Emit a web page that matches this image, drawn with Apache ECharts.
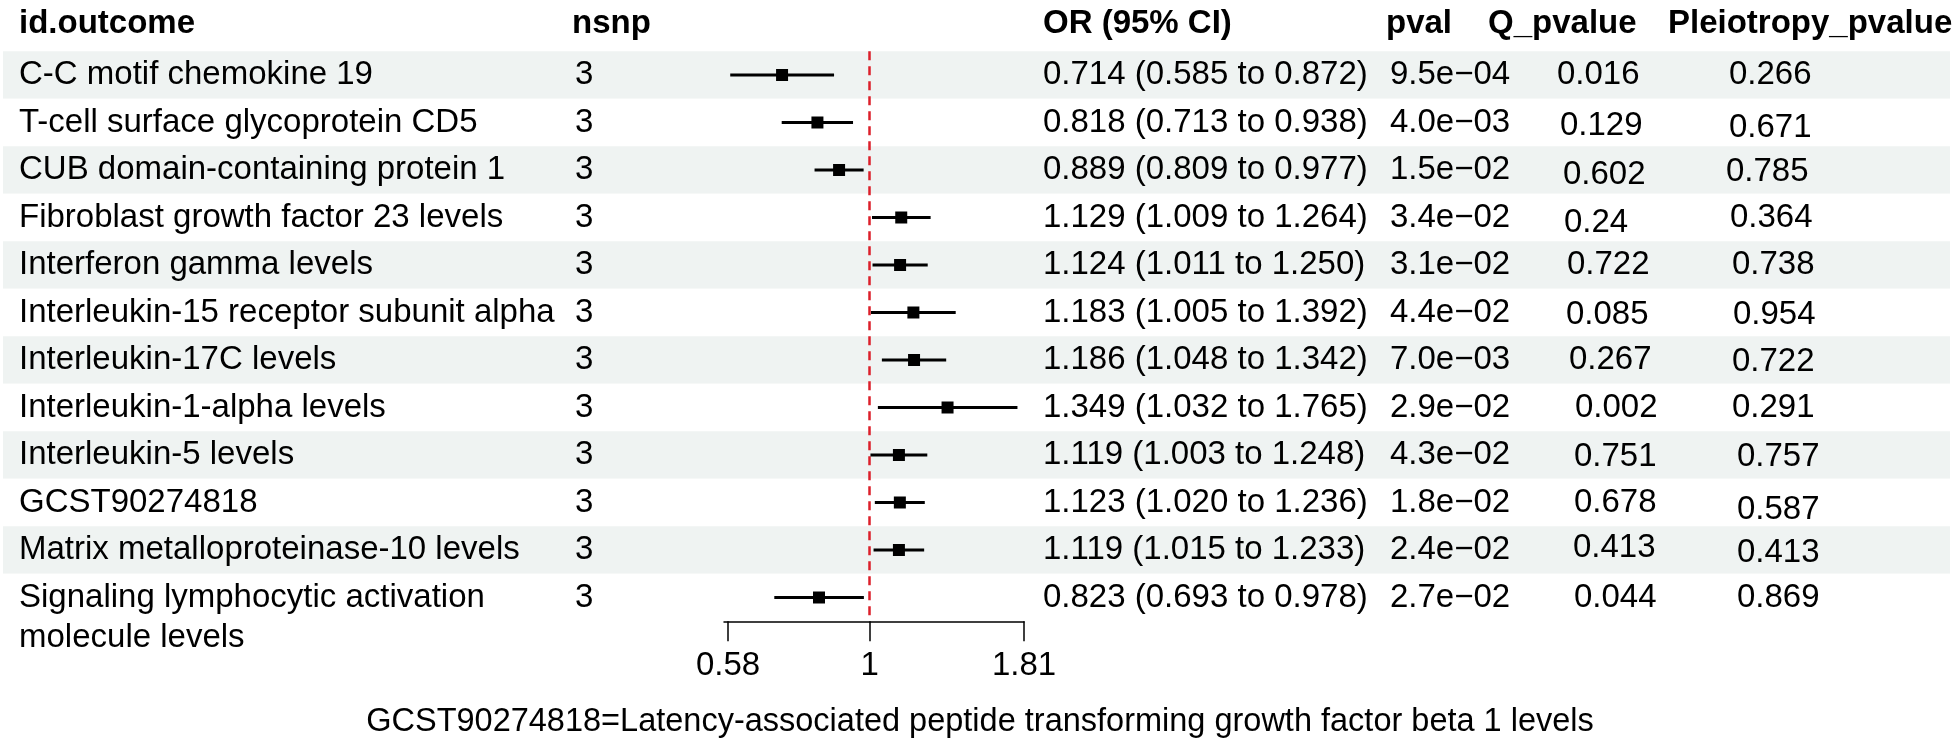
<!DOCTYPE html>
<html>
<head>
<meta charset="utf-8">
<script src="https://cdn.jsdelivr.net/npm/echarts@6/dist/echarts.min.js"></script>
<style>
  html, body { margin: 0; padding: 0; background: #fff; }
  #main { width: 1960px; height: 744px; }
</style>
</head>
<body>
<div id="main"></div>
<script>
// ---- data ----
var outcomes = [
    'C-C motif chemokine 19',
    'T-cell surface glycoprotein CD5',
    'CUB domain-containing protein 1',
    'Fibroblast growth factor 23 levels',
    'Interferon gamma levels',
    'Interleukin-15 receptor subunit alpha',
    'Interleukin-17C levels',
    'Interleukin-1-alpha levels',
    'Interleukin-5 levels',
    'GCST90274818',
    'Matrix metalloproteinase-10 levels',
    'Signaling lymphocytic activation\nmolecule levels'
];
var nsnp = [3, 3, 3, 3, 3, 3, 3, 3, 3, 3, 3, 3];
var orVals = [0.714, 0.818, 0.889, 1.129, 1.124, 1.183, 1.186, 1.349, 1.119, 1.123, 1.119, 0.823];
var ciLow = [0.585, 0.713, 0.809, 1.009, 1.011, 1.005, 1.048, 1.032, 1.003, 1.020, 1.015, 0.693];
var ciHigh = [0.872, 0.938, 0.977, 1.264, 1.250, 1.392, 1.342, 1.765, 1.248, 1.236, 1.233, 0.978];
var pvals = [9.5e-4, 4.0e-3, 1.5e-2, 3.4e-2, 3.1e-2, 4.4e-2, 7.0e-3, 2.9e-2, 4.3e-2, 1.8e-2, 2.4e-2, 2.7e-2];
var qPvals = [0.016, 0.129, 0.602, 0.24, 0.722, 0.085, 0.267, 0.002, 0.751, 0.678, 0.413, 0.044];
var pleioPvals = [0.266, 0.671, 0.785, 0.364, 0.738, 0.954, 0.722, 0.291, 0.757, 0.587, 0.413, 0.869];
var headers = ['id.outcome', 'nsnp', 'OR (95% CI)', 'pval', 'Q_pvalue', 'Pleiotropy_pvalue'];
var tickVals = [0.58, 1, 1.81];
var footnote = 'GCST90274818=Latency-associated peptide transforming growth factor beta 1 levels';

// ---- layout (pixels) ----
var FONT = '"Liberation Sans", Arial, sans-serif';
var FS = 33;
var headerX = [19, 572, 1043, 1386, 1488, 1668];
var colX = {label: 19, nsnp: 575, or: 1043, pval: 1390};
// small per-row offsets in the two right-hand columns, as in the picture
var qX = [1557, 1560, 1563, 1564, 1567, 1566, 1569, 1575, 1574, 1574, 1573, 1574];
var qDy = [0, 3, 5, 5, 0, 2, 0, 0, 2, 0, -2, 0];
var pX = [1729, 1729, 1726, 1730, 1732, 1733, 1732, 1732, 1737, 1737, 1737, 1737];
var pDy = [0, 5, 2, 0, 0, 2, 2, 0, 2, 7, 3, 0];
var gridTop = 51.25, gridHeight = 570;
var xMin = Math.log(0.58) - 4 / 260.09;
var xMax = Math.log(1.81);

function fmtP(v) {
    var parts = v.toExponential(1).split('e');
    var e = parseInt(parts[1], 10);
    var s = Math.abs(e) < 10 ? '0' + Math.abs(e) : '' + Math.abs(e);
    return parts[0] + 'e' + (e < 0 ? '\u2212' : '+') + s;
}
function fmtCI(i) {
    return orVals[i].toFixed(3) + ' (' + ciLow[i].toFixed(3) + ' to ' + ciHigh[i].toFixed(3) + ')';
}
function txt(x, y, text, extra) {
    var st = {
        text: text, fill: '#000', fontSize: FS, fontFamily: FONT,
        align: 'left', verticalAlign: 'middle'
    };
    for (var k in extra) st[k] = extra[k];
    return {type: 'text', x: x, y: y, style: st};
}

var chartDom = document.getElementById('main');
var myChart = echarts.init(chartDom);

// rows sit at i + 0.5 on a 0..12 value axis (inverse), one band per unit
var forestData = orVals.map(function (v, i) {
    return [Math.log(v), Math.log(ciLow[i]), Math.log(ciHigh[i]), i + 0.5];
});
var tableData = outcomes.map(function (n, i) { return [0, i + 0.5]; });

var graphics = headers.map(function (h, k) {
    return txt(headerX[k], 24, h, {fontWeight: 'bold'});
});
graphics.push({
    type: 'text', left: 'center', top: 706,
    style: {text: footnote, fill: '#000', fontSize: 32.5, fontFamily: FONT}
});

var option = {
    animation: false,
    backgroundColor: '#fff',
    grid: [
        {left: 724, width: 300, top: gridTop, height: gridHeight},
        {left: 3, right: 10, top: gridTop, height: gridHeight}
    ],
    xAxis: [
        {
            type: 'value', gridIndex: 0, min: xMin, max: xMax,
            splitLine: {show: false},
            axisLine: {show: true, onZero: false, lineStyle: {color: '#000', width: 1.5}},
            axisTick: {show: true, length: 20, customValues: tickVals.map(Math.log),
                lineStyle: {color: '#000', width: 1.5}},
            axisLabel: {
                show: true, margin: 28, color: '#000', fontSize: FS, fontFamily: FONT,
                customValues: tickVals.map(Math.log),
                formatter: function (v) {
                    var best = tickVals[0];
                    tickVals.forEach(function (t) {
                        if (Math.abs(Math.log(t) - v) < Math.abs(Math.log(best) - v)) best = t;
                    });
                    return String(best);
                }
            }
        },
        {type: 'value', gridIndex: 1, min: 3, max: 1950, show: false}
    ],
    yAxis: [
        {type: 'value', gridIndex: 0, min: 0, max: 12, interval: 1, inverse: true, show: false},
        {
            type: 'value', gridIndex: 1, min: 0, max: 12, interval: 1, inverse: true,
            axisLine: {show: false}, axisTick: {show: false}, axisLabel: {show: false},
            splitLine: {show: false},
            splitArea: {show: true, areaStyle: {color: ['#eff3f2', '#ffffff']}}
        }
    ],
    series: [
        {
            type: 'custom', name: 'table', xAxisIndex: 1, yAxisIndex: 1,
            data: tableData, z: 2, silent: true,
            renderItem: function (params, api) {
                var i = params.dataIndex;
                var cy = api.coord([0, api.value(1)])[1];
                var kids = [];
                kids.push(txt(colX.label, cy - 20, outcomes[i], {verticalAlign: 'top', lineHeight: 40}));
                kids.push(txt(colX.nsnp, cy, String(nsnp[i])));
                kids.push(txt(colX.or, cy, fmtCI(i)));
                kids.push(txt(colX.pval, cy, fmtP(pvals[i])));
                kids.push(txt(qX[i], cy + qDy[i], String(qPvals[i])));
                kids.push(txt(pX[i], cy + pDy[i], String(pleioPvals[i])));
                return {type: 'group', children: kids};
            }
        },
        {
            type: 'custom', name: 'OR', xAxisIndex: 0, yAxisIndex: 0,
            data: forestData, z: 5, silent: true, clip: false,
            encode: {x: [0, 1, 2], y: 3},
            renderItem: function (params, api) {
                var y = api.value(3);
                var p = api.coord([api.value(0), y]);
                var l = api.coord([api.value(1), y]);
                var h = api.coord([api.value(2), y]);
                return {
                    type: 'group',
                    children: [
                        {type: 'line', shape: {x1: l[0], y1: p[1], x2: h[0], y2: p[1]},
                            style: {stroke: '#000', lineWidth: 3}},
                        {type: 'rect', shape: {x: p[0] - 6, y: p[1] - 6, width: 12, height: 12},
                            style: {fill: '#000'}}
                    ]
                };
            },
            markLine: {
                silent: true, symbol: 'none', label: {show: false},
                lineStyle: {color: '#dc1f2a', width: 2.5, type: [9, 6]},
                data: [{xAxis: 0}]
            }
        }
    ],
    graphic: graphics
};

option && myChart.setOption(option);
</script>
</body>
</html>
